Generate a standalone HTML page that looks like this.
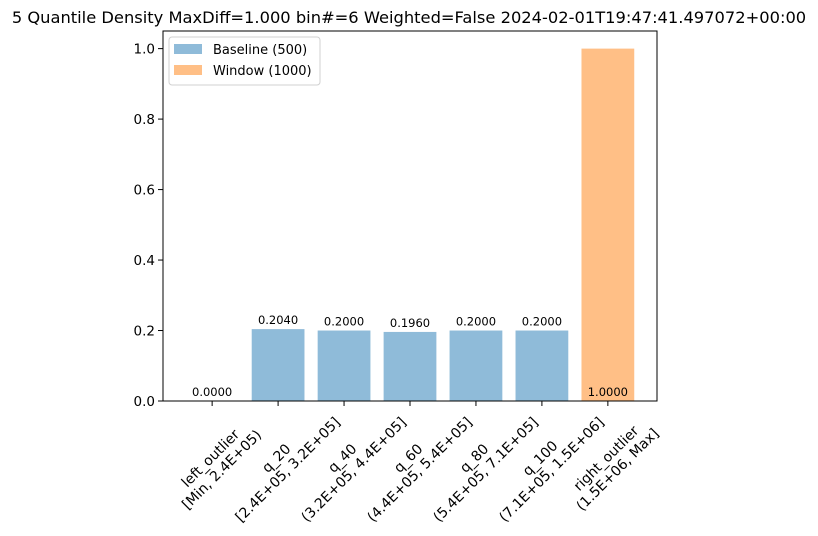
<!DOCTYPE html>
<html><head><meta charset="utf-8"><style>body{margin:0;background:#fff}svg{display:block;font-family:"DejaVu Sans","Liberation Sans",sans-serif}</style></head>
<body>
<svg id="chart" width="818" height="536">
<text x="409" y="23" text-anchor="middle" font-size="16.3">5 Quantile Density MaxDiff=1.000 bin#=6 Weighted=False 2024-02-01T19:47:41.497072+00:00</text>
<g id="bars"></g><g id="axes"></g>
</svg>
<script>
const categories=["left_outlier","q_20","q_40","q_60","q_80","q_100","right_outlier"];
const ranges=["[Min, 2.4E+05)","[2.4E+05, 3.2E+05]","(3.2E+05, 4.4E+05]","(4.4E+05, 5.4E+05]","(5.4E+05, 7.1E+05]","(7.1E+05, 1.5E+06]","(1.5E+06, Max]"];
const baseline=[0.0,0.204,0.2,0.196,0.2,0.2,0.0];
const windowVals=[0,0,0,0,0,0,1.0];
const barLabels=["0.0000","0.2040","0.2000","0.1960","0.2000","0.2000","1.0000"];
const yTicks=[0,0.2,0.4,0.6,0.8,1.0];
const L=163,R=657,T=31,B=401,xmin=-0.745,xmax=6.745,ymax=1.05;
const xs=v=>L+(v-xmin)/(xmax-xmin)*(R-L);
const ys=v=>B-v/ymax*(B-T);
const NS="http://www.w3.org/2000/svg";
function mk(t,a,p){const e=document.createElementNS(NS,t);for(const k in a)e.setAttribute(k,a[k]);p.appendChild(e);return e;}
const bars=document.getElementById('bars'),axes=document.getElementById('axes');
const bw=xs(0.8)-xs(0);
categories.forEach((c,i)=>{
 if(baseline[i]>0){const r=mk('rect',{x:xs(i-0.4),y:ys(baseline[i]),width:bw,height:B-ys(baseline[i]),fill:'#8fbbd9'},bars);
 
 }
 if(windowVals[i]>0){const r=mk('rect',{x:xs(i-0.4),y:ys(windowVals[i]),width:bw,height:B-ys(windowVals[i]),fill:'#ffbf86'},bars);
 
 }
 const lv=c==='right_outlier'?0:baseline[i];
 const t=mk('text',{x:xs(i),y:ys(lv)-5,'text-anchor':'middle','font-size':'11.5'},bars);t.textContent=barLabels[i];
 
 
 mk('line',{x1:xs(i),x2:xs(i),y1:B,y2:B+5,stroke:'#000'},axes);
 const g=mk('g',{transform:`translate(${xs(i)+3},463) rotate(-45)`},axes);
 
 
 const t1=mk('text',{x:0,y:-2,'text-anchor':'middle','font-size':'14'},g);t1.textContent=c;
 const t2=mk('text',{x:0,y:14,'text-anchor':'middle','font-size':'14'},g);t2.textContent=ranges[i];
});
yTicks.forEach(v=>{
 mk('line',{x1:L-5,x2:L,y1:ys(v),y2:ys(v),stroke:'#000'},axes);
 const t=mk('text',{x:L-8,y:ys(v)+5,'text-anchor':'end','font-size':'13.5'},axes);t.textContent=v.toFixed(1);
 
 
});
const f=mk('rect',{x:L,y:T,width:R-L,height:B-T,fill:'none',stroke:'#000','stroke-width':1},axes);


const lg=mk('g',{},axes);


mk('rect',{x:169,y:37,width:151,height:48,rx:3,fill:'#fff',stroke:'#d0d0d0'},lg);
mk('rect',{x:174,y:44,width:28,height:10,fill:'#8fbbd9'},lg);
mk('rect',{x:174,y:65,width:28,height:10,fill:'#ffbf86'},lg);
const l1=mk('text',{x:213,y:54,'font-size':'13'},lg);l1.textContent='Baseline (500)';
const l2=mk('text',{x:213,y:75,'font-size':'13'},lg);l2.textContent='Window (1000)';
</script>
</body></html>
